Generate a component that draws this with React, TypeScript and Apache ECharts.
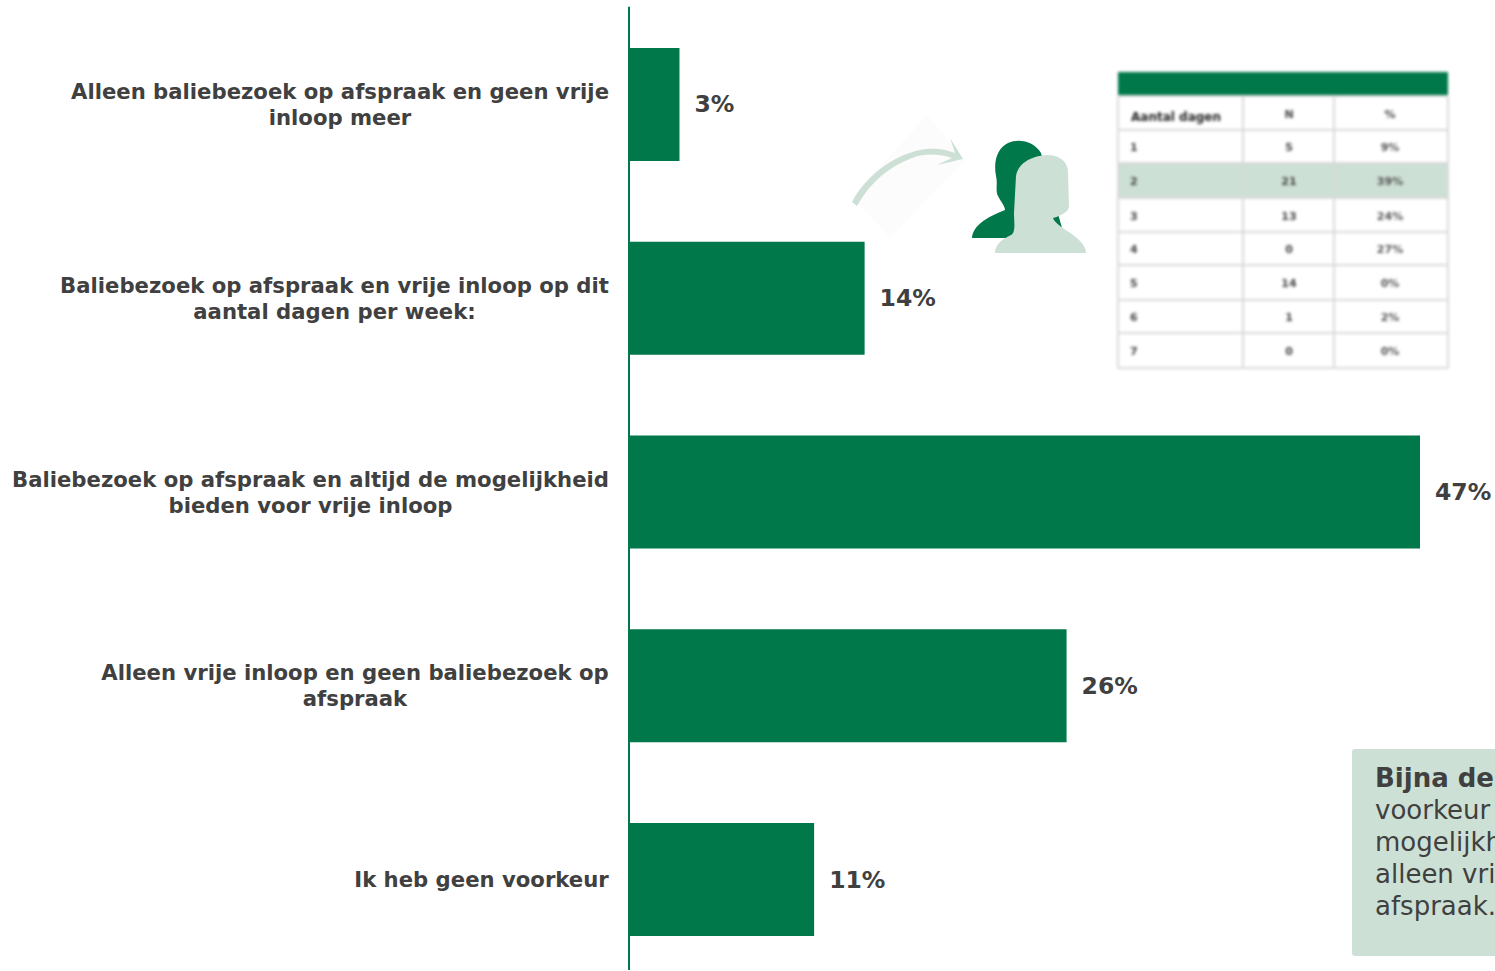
import React, { useEffect, useRef } from "react";
import * as echarts from "echarts";

const categories = [
  ["Alleen baliebezoek op afspraak en geen vrije", "inloop meer"],
  ["Baliebezoek op afspraak en vrije inloop op dit", "aantal dagen per week:"],
  ["Baliebezoek op afspraak en altijd de mogelijkheid", "bieden voor vrije inloop"],
  ["Alleen vrije inloop en geen baliebezoek op", "afspraak"],
  ["Ik heb geen voorkeur"],
];
const shares = [3, 14, 47, 26, 11];

const tableHeader = ["Aantal dagen", "N", "%"];
const tableDays = ["1", "2", "3", "4", "5", "6", "7"];
const tableCounts = ["5", "21", "13", "0", "14", "1", "0"];
const tablePercents = ["9%", "39%", "24%", "27%", "0%", "2%", "0%"];
const highlightedDay = "2";

const calloutLines = [
  { text: "Bijna de", bold: true },
  { text: "voorkeur", bold: false },
  { text: "mogelijkh", bold: false },
  { text: "alleen vri", bold: false },
  { text: "afspraak.", bold: false },
];

const GREEN = "#00784a";
const PALE = "#cde0d5";
const INK = "#404040";
const FONT = "'DejaVu Sans', Verdana, sans-serif";
const LABEL_FONT_SIZE = 21.2;
const VALUE_FONT_SIZE = 23.5;

const measure = (() => {
  const ctx = document.createElement("canvas").getContext("2d")!;
  return (text: string) => {
    ctx.font = `bold ${LABEL_FONT_SIZE}px ${FONT}`;
    return Math.ceil(ctx.measureText(text).width);
  };
})();

echarts.graphic.registerShape(
  "personBack",
  echarts.graphic.extendPath(
    "M972 238C973 226 985 218 1005 210C1005 206 1001 202 998 196C995 190 998 184 996 176C993 160 998 148 1008 143C1020 138 1034 142 1041 153L1062 228L1050 238Z",
    {}
  )
);
echarts.graphic.registerShape(
  "personFront",
  echarts.graphic.extendPath(
    "M995 253C995 246 1000 240 1011 235C1016 232 1014 222 1014 213L1016 176C1018 164 1030 156 1047 155C1060 155 1068 162 1068 172L1069 206C1069 212 1060 216 1053 218C1056 226 1072 232 1080 241C1084 245 1086 250 1086 253Z",
    {}
  )
);
echarts.graphic.registerShape(
  "curvedArrow",
  echarts.graphic.extendPath(
    "M852 202C866 176 892 156 920 150C934 147 948 150 955 153L950 138L963 159L937 165L952 158C940 154 926 153 912 158C890 166 870 182 857 206Z",
    {}
  )
);

const chartOption = () => {
  const rich: Record<string, object> = {};
  categories.forEach((lines, i) => {
    rich[`c${i}`] = {
      width: measure(lines[0]),
      align: "center",
      fontFamily: FONT,
      fontSize: LABEL_FONT_SIZE,
      fontWeight: "bold",
      color: INK,
      lineHeight: 26,
    };
  });

  return {
    animation: false,
    grid: { left: 629, top: 7.5, width: 791, height: 969, outerBoundsMode: "none", containLabel: false },
    xAxis: { type: "value", min: 0, max: 47, show: false },
    yAxis: {
      type: "category",
      inverse: true,
      data: categories.map((lines) => lines.join(" ")),
      axisTick: { show: false },
      axisLine: { lineStyle: { color: GREEN, width: 2 } },
      axisLabel: {
        interval: 0,
        margin: 20,
        align: "right",
        formatter: (_: string, index: number) =>
          categories[index].map((line) => `{c${index}|${line}}`).join("\n"),
        rich,
      },
    },
    series: [
      {
        type: "bar",
        data: shares,
        barWidth: 113,
        itemStyle: { color: GREEN },
        label: {
          show: true,
          position: "right",
          distance: 15,
          formatter: "{c}%",
          fontFamily: FONT,
          fontSize: VALUE_FONT_SIZE,
          fontWeight: "bold",
          color: INK,
        },
      },
    ],
    graphic: [
      {
        type: "rect",
        silent: true,
        shape: { x: 1352, y: 749, width: 160, height: 207, r: 3 },
        style: { fill: PALE },
      },
      ...calloutLines.map((line, i) => ({
        type: "text",
        silent: true,
        style: {
          text: line.text,
          x: 1375,
          y: 778 + i * 32,
          fill: INK,
          font: `${line.bold ? "bold " : ""}26px ${FONT}`,
          verticalAlign: "middle",
        },
      })),
    ],
  };
};

const rowEdges = [96, 130, 163, 198, 232, 265, 300, 333, 368];
const columnEdges = [1118, 1243, 1334, 1448];
const columnCentres = [1130, 1289, 1390];
const BORDER = "#d9d9d9";

const tableOption = () => {
  const cellText = (text: string, x: number, y: number, align: string, bold: boolean, size: number, fill: string) => ({
    type: "text",
    silent: true,
    style: {
      text,
      x,
      y,
      fill,
      align,
      verticalAlign: "middle",
      font: `${bold ? "bold " : ""}${size}px ${FONT}`,
    },
  });
  const highlight = tableDays.indexOf(highlightedDay);
  const elements: object[] = [
    {
      type: "rect",
      silent: true,
      shape: { x: 1118, y: 72, width: 330, height: 24 },
      style: { fill: GREEN },
    },
    {
      type: "rect",
      silent: true,
      shape: {
        x: 1118,
        y: rowEdges[highlight + 1],
        width: 330,
        height: rowEdges[highlight + 2] - rowEdges[highlight + 1],
      },
      style: { fill: PALE },
    },
  ];
  rowEdges.forEach((y) =>
    elements.push({
      type: "line",
      silent: true,
      shape: { x1: 1118, y1: y, x2: 1448, y2: y },
      style: { stroke: BORDER, lineWidth: 2 },
    })
  );
  columnEdges.forEach((x) =>
    elements.push({
      type: "line",
      silent: true,
      shape: { x1: x, y1: 96, x2: x, y2: 368 },
      style: { stroke: BORDER, lineWidth: 2 },
    })
  );
  elements.push(cellText(tableHeader[0], 1131, 117, "left", true, 12, "#222222"));
  elements.push(cellText(tableHeader[1], columnCentres[1], 114, "center", true, 11, "#444444"));
  elements.push(cellText(tableHeader[2], columnCentres[2], 114, "center", true, 11, "#444444"));
  tableDays.forEach((day, i) => {
    const y = (rowEdges[i + 1] + rowEdges[i + 2]) / 2 + 1;
    elements.push(cellText(day, columnCentres[0], y, "left", true, 11, "#444444"));
    elements.push(cellText(tableCounts[i], columnCentres[1], y, "center", true, 11, "#444444"));
    elements.push(cellText(tablePercents[i], columnCentres[2], y, "center", true, 11, "#555555"));
  });
  return { animation: false, graphic: elements };
};

const iconOption = () => ({
  animation: false,
  graphic: [
    {
      type: "polygon",
      silent: true,
      shape: { points: [[852, 197], [927, 115], [965, 160], [890, 238]] },
      style: { fill: "#fbfcfb" },
    },
    { type: "curvedArrow", silent: true, x: 0, y: 0, style: { fill: PALE } },
    { type: "personBack", silent: true, x: 0, y: 0, style: { fill: GREEN } },
    { type: "personFront", silent: true, x: 0, y: 0, style: { fill: PALE } },
  ],
});

const layerStyle = (height: number, blur: number): React.CSSProperties => ({
  position: "absolute",
  left: 0,
  top: 0,
  width: 1495,
  height,
  filter: blur ? `blur(${blur}px)` : undefined,
  pointerEvents: "none",
});

export default function App() {
  const chartRef = useRef<HTMLDivElement>(null);
  const tableRef = useRef<HTMLDivElement>(null);
  const iconRef = useRef<HTMLDivElement>(null);

  useEffect(() => {
    document.body.style.margin = "0";
    document.body.style.background = "#ffffff";
    const layers: [HTMLDivElement | null, object][] = [
      [chartRef.current, chartOption()],
      [tableRef.current, tableOption()],
      [iconRef.current, iconOption()],
    ];
    const charts = layers.map(([el, option]) => {
      const chart = echarts.init(el!, undefined, { renderer: "svg" });
      chart.setOption(option);
      return chart;
    });
    return () => charts.forEach((chart) => chart.dispose());
  }, []);

  return (
    <div style={{ position: "absolute", left: 0, top: 0, width: 1495, height: 971, overflow: "hidden", background: "#fff" }}>
      <div ref={chartRef} style={layerStyle(970, 0)} />
      <div ref={tableRef} style={layerStyle(400, 1.4)} />
      <div ref={iconRef} style={layerStyle(400, 0.7)} />
    </div>
  );
}
